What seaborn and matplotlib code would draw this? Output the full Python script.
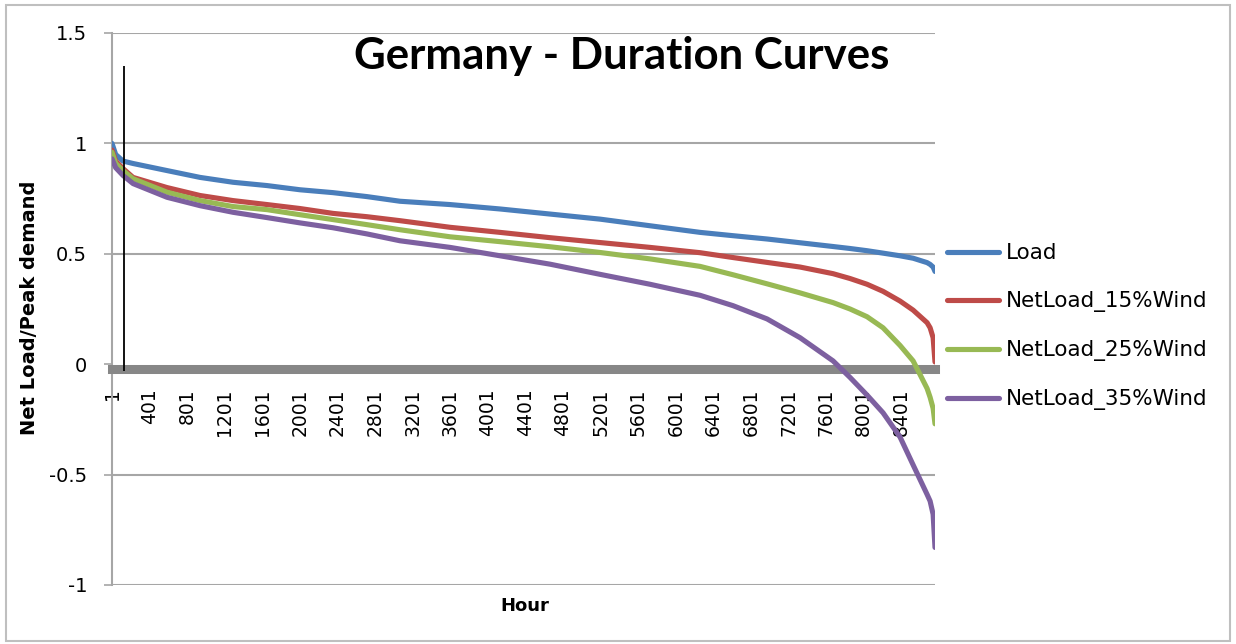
import numpy as np
import pandas as pd
import matplotlib
matplotlib.use("Agg")
import matplotlib.pyplot as plt
import seaborn as sns
from matplotlib.patches import Rectangle

# ---- data ----
hours = [1, 40, 118, 225, 586, 938, 1289, 1651, 2002, 2353, 2715, 3066, 3599, 4131,
         4663, 5195, 5727, 6260, 6611, 6973, 7324, 7675, 7856, 8037, 8207, 8388, 8527,
         8676, 8708, 8740, 8760]
load = [1.0, 0.95, 0.92, 0.909, 0.877, 0.846, 0.824, 0.809, 0.79, 0.777, 0.759, 0.738,
        0.723, 0.703, 0.68, 0.657, 0.627, 0.597, 0.582, 0.567, 0.55, 0.533, 0.524,
        0.514, 0.503, 0.491, 0.48, 0.46, 0.452, 0.44, 0.42]
net15 = [0.97, 0.92, 0.886, 0.846, 0.80, 0.764, 0.741, 0.723, 0.705, 0.683, 0.668, 0.65,
         0.62, 0.597, 0.573, 0.551, 0.529, 0.505, 0.483, 0.461, 0.44, 0.41, 0.388,
         0.362, 0.33, 0.286, 0.245, 0.188, 0.165, 0.12, 0.01]
net25 = [0.96, 0.91, 0.877, 0.84, 0.779, 0.741, 0.714, 0.70, 0.677, 0.655, 0.632, 0.609,
         0.577, 0.555, 0.532, 0.506, 0.477, 0.443, 0.405, 0.364, 0.323, 0.279, 0.25,
         0.215, 0.165, 0.085, 0.015, -0.11, -0.15, -0.20, -0.27]
net35 = [0.93, 0.89, 0.855, 0.818, 0.756, 0.718, 0.688, 0.664, 0.64, 0.618, 0.59, 0.559,
         0.529, 0.491, 0.453, 0.407, 0.362, 0.312, 0.265, 0.205, 0.12, 0.015, -0.06,
         -0.14, -0.22, -0.33, -0.456, -0.59, -0.62, -0.68, -0.83]
series_names = ["Load", "NetLoad_15%Wind", "NetLoad_25%Wind", "NetLoad_35%Wind"]
colors = ["#4A7EBB", "#BE4B48", "#98B954", "#7D60A0"]
xtick_values = list(range(1, 8761, 400))[:22]
ytick_values = [-1, -0.5, 0, 0.5, 1, 1.5]
ytick_labels = ["-1", "-0.5", "0", "0.5", "1", "1.5"]
marker_hour = 125

df = pd.concat([
    pd.DataFrame({"Hour": hours, "Value": vals, "Series": name})
    for name, vals in zip(series_names, [load, net15, net25, net35])
], ignore_index=True)

sns.set_style("white")
plt.rcParams["font.family"] = ["DejaVu Sans"]
plt.rcParams["text.color"] = "black"
plt.rcParams["xtick.color"] = "black"
plt.rcParams["ytick.color"] = "black"
plt.rcParams["axes.labelcolor"] = "black"

fig = plt.figure(figsize=(12.36, 6.44), dpi=100)
ax = fig.add_axes([112 / 1236, 1 - 585 / 644, 823 / 1236, 552 / 644])

sns.lineplot(data=df, x="Hour", y="Value", hue="Series", palette=colors,
             hue_order=series_names, linewidth=3.7, ax=ax, legend=True)
for ln in ax.lines:
    ln.set_zorder(3)
    ln.set_solid_joinstyle("round")

ax.vlines(marker_hour, -0.03, 1.35, color="black", linewidth=1.3, zorder=4)

ax.set_xlim(1, 8760)
ax.set_ylim(-1, 1.5)
ax.set_yticks(ytick_values)
ax.set_yticklabels(ytick_labels)
ax.set_xticks(xtick_values)
ax.set_xticklabels([str(v) for v in xtick_values])

# gridlines (except at 0, which is covered by the axis band)
for v in ytick_values:
    if v != 0:
        ax.axhline(v, color="#A6A6A6", linewidth=1.5, zorder=1)

for s in ["top", "right"]:
    ax.spines[s].set_visible(False)
ax.spines["left"].set_color("#A6A6A6")
ax.spines["left"].set_linewidth(1.5)
ax.spines["bottom"].set_position(("data", -0.02))
ax.spines["bottom"].set_color("#878787")
ax.spines["bottom"].set_linewidth(6.5)

ax.tick_params(axis="y", length=6, width=1.2, color="#A6A6A6", labelcolor="black",
               pad=12, labelsize=14, left=True)
ax.tick_params(axis="x", length=0, pad=14, rotation=90, labelsize=13.5,
               labelcolor="black")

ax.set_xlabel("")
ax.set_ylabel("")
fig.text(525 / 1236, 1 - 606 / 644, "Hour", fontsize=13, fontweight="bold",
         ha="center", va="center", color="black")
fig.text(30 / 1236, 1 - 308 / 644, "Net Load/Peak demand", fontsize=14,
         fontweight="bold", rotation=90, ha="center", va="center", color="black")
fig.text(622 / 1236, 1 - 56 / 644, "Germany - Duration Curves", fontsize=31.5,
         fontweight="bold", family=["Lato", "DejaVu Sans"], ha="center",
         va="center", color="black")

leg = ax.legend(loc="center left", bbox_to_anchor=(1.015, 0.468), frameon=False,
                fontsize=15.5, handlelength=2.4, handletextpad=0.3,
                labelspacing=1.3, borderaxespad=0, borderpad=0)
for h in leg.legend_handles:
    h.set_linewidth(3.7)
for t in leg.get_texts():
    t.set_color("black")

fig.patches.append(Rectangle((6 / 1236, 3 / 644), 1224 / 1236, 636 / 644,
                             transform=fig.transFigure, fill=False,
                             edgecolor="#BFBFBF", linewidth=1.5))

fig.savefig("out.png", dpi=100)
